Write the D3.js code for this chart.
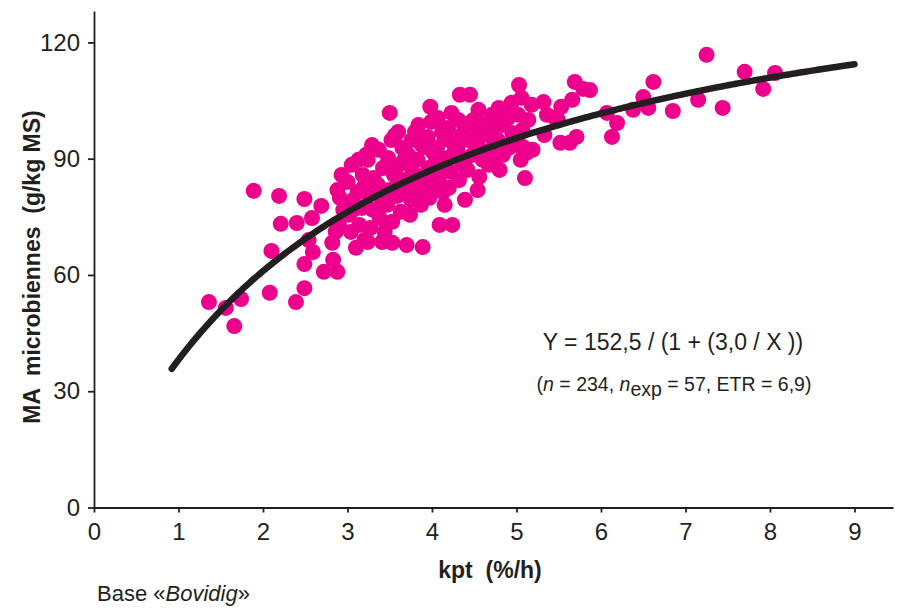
<!DOCTYPE html>
<html>
<head>
<meta charset="utf-8">
<script src="https://cdn.jsdelivr.net/npm/d3@7"></script>
<style>
  html, body { margin: 0; padding: 0; background: #fff; }
  text { font-family: "Liberation Sans", Arial, Helvetica, sans-serif; fill: #231f20; }
</style>
</head>
<body>
<svg id="chart" width="898" height="610"></svg>
<script>
// ---- data (kpt %/h, MA microbiennes g/kg MS) ----
const kpt = [
  1.36, 1.56, 1.74, 1.66, 2.08, 2.39, 2.49, 1.89, 2.19, 2.49, 2.69, 2.21, 2.40, 2.58,
  2.10, 2.54, 2.59, 2.49, 2.72, 2.88, 2.83, 2.82, 2.91, 3.10, 3.24, 3.41, 3.53, 3.70,
  3.89, 3.74, 4.09, 4.24, 3.50, 3.98, 4.33, 4.45, 4.49, 4.54, 5.10,
  2.93, 2.88, 2.95, 2.90, 2.86,
  3.05, 3.00, 3.07, 3.02, 3.04,
  3.13, 3.18, 3.12, 3.17, 3.14, 3.20,
  3.29, 3.24, 3.31, 3.25, 3.30, 3.27,
  3.37, 3.42, 3.36, 3.41, 3.38, 3.44,
  3.52, 3.48, 3.55, 3.50, 3.47, 3.53,
  3.60, 3.65, 3.61, 3.66, 3.59, 3.63,
  3.76, 3.72, 3.77, 3.71, 3.75,
  3.84, 3.88, 3.83, 3.89, 3.85, 3.87,
  3.99, 3.95, 4.01, 3.96, 4.00, 3.97,
  4.07, 4.12, 4.06, 4.11, 4.08, 4.13,
  4.23, 4.19, 4.24, 4.18, 4.22, 4.20,
  4.31, 4.35, 4.30, 4.36, 4.32,
  4.47, 4.43, 4.48, 4.42,
  4.55, 4.59, 4.54, 4.60, 4.56,
  4.71, 4.66, 4.70, 4.67,
  4.79, 4.83, 4.78, 4.84, 4.80,
  4.94, 4.90, 4.95, 4.91,
  5.03, 5.06, 5.02, 5.07, 5.01, 5.05,
  5.18, 5.14, 5.19,
  5.32, 5.36, 5.33,
  5.53, 5.49, 5.52,
  5.69, 5.66, 5.71,
  5.87, 5.79, 4.72, 4.15, 4.39,
  6.07, 6.19, 6.13, 6.38, 6.50, 6.56, 6.62, 6.85, 7.15, 7.25, 7.44, 7.70, 7.92, 8.06,
  5.63, 5.12, 5.08, 5.46,
  3.20, 3.35, 3.45, 3.58, 3.68, 3.80, 3.92, 3.93, 4.04, 4.15, 4.17, 4.27, 4.38, 4.40,
  4.52, 4.63, 4.75, 4.87, 4.98, 3.08, 3.22, 3.56, 3.80
];
const ma = [
  53.0, 51.5, 53.8, 46.8, 55.4, 53.0, 56.6, 81.7, 80.4, 79.6, 77.8, 73.2, 73.4, 74.7,
  66.2, 69.0, 65.9, 62.8, 60.8, 60.8, 63.9, 68.3, 79.9, 67.0, 68.5, 68.5, 68.3, 67.7,
  67.2, 75.5, 72.9, 72.9, 101.8, 103.4, 106.5, 106.5, 100.0, 81.9, 85.0,
  85.8, 81.9, 76.8, 72.9, 71.1,
  88.4, 84.0, 79.4, 75.5, 71.1,
  89.7, 85.8, 81.4, 77.3, 72.9, 69.0,
  93.5, 89.7, 85.0, 80.6, 76.8, 72.1,
  92.3, 87.6, 83.2, 79.4, 74.7, 71.1,
  94.8, 90.2, 85.8, 81.9, 78.1, 73.7,
  96.9, 92.8, 88.4, 84.5, 80.4, 76.3,
  94.8, 91.0, 86.6, 82.5, 79.4,
  98.7, 93.5, 89.7, 85.0, 81.4, 78.1,
  99.5, 95.6, 91.7, 87.6, 83.2, 79.9,
  100.5, 96.9, 92.8, 89.2, 85.0, 81.4,
  101.8, 97.9, 94.3, 90.2, 86.6, 82.5,
  100.0, 96.1, 92.3, 88.4, 84.5,
  98.7, 94.8, 91.0, 87.1,
  102.6, 97.4, 93.5, 89.7, 85.3,
  101.3, 96.1, 92.3, 88.4,
  103.1, 98.7, 94.8, 91.0, 87.1,
  104.4, 100.5, 96.6, 92.8,
  109.0, 105.7, 101.3, 97.4, 93.5, 89.7,
  103.9, 100.0, 92.3,
  104.6, 101.3, 96.1,
  103.4, 100.0, 94.1,
  109.8, 105.2, 95.6,
  107.7, 108.0, 97.9, 78.1, 79.4,
  101.8, 99.2, 95.6, 102.6, 105.9, 103.1, 109.8, 102.3, 105.2, 116.8, 103.1, 112.4, 108.0, 112.1,
  94.1, 91.5, 93.0, 100.5,
  83.0, 77.0, 88.0, 82.0, 90.0, 84.0, 93.0, 86.0, 89.0, 95.0, 87.0, 92.0, 99.0, 90.0,
  95.0, 99.0, 90.0, 101.0, 95.0, 77.0, 91.0, 96.0, 97.0
];
// fitted model printed on the chart: Y = 152,5 / (1 + (3,0 / X))
const fitA = 152.5, fitB = 3.0;
const fitRange = [0.92, 9.0];
const xTicks = [0, 1, 2, 3, 4, 5, 6, 7, 8, 9];
const yTicks = [0, 30, 60, 90, 120];
const xTitle = "kpt  (%/h)";
const yTitle = "MA  microbiennes  (g/kg MS)";

// ---- drawing ----
const svg = d3.select("#chart");
const ink = "#231f20";
const pink = "#ec008c";

const x = d3.scaleLinear().domain([0, 9.456]).range([94, 893]);
const y = d3.scaleLinear().domain([0, 128.1]).range([507.5, 11]);

const points = kpt.map((k, i) => ({ k, m: ma[i] }));

svg.append("g").selectAll("circle").data(points).join("circle")
  .attr("cx", d => x(d.k)).attr("cy", d => y(d.m)).attr("r", 8)
  .attr("fill", pink);

const curveX = d3.range(fitRange[0], fitRange[1] + 1e-9, 0.02);
const curveData = curveX.map(v => ({ k: v, m: fitA / (1 + fitB / v) }));
svg.append("path").datum(curveData)
  .attr("fill", "none").attr("stroke", ink).attr("stroke-width", 6.5)
  .attr("stroke-linecap", "round").attr("stroke-linejoin", "round")
  .attr("d", d3.line().x(d => x(d.k)).y(d => y(d.m)).curve(d3.curveMonotoneX));

// axes
const gx = svg.append("g").attr("transform", `translate(0,${y(0)})`)
  .call(d3.axisBottom(x).tickValues(xTicks).tickFormat(d3.format("d"))
    .tickSize(5).tickSizeOuter(0).tickPadding(10));
const gy = svg.append("g").attr("transform", `translate(${x(0)},0)`)
  .call(d3.axisLeft(y).tickValues(yTicks).tickFormat(d3.format("d"))
    .tickSize(6).tickSizeOuter(0).tickPadding(8));
[gx, gy].forEach(g => {
  g.select(".domain").attr("stroke", ink).attr("stroke-width", 1.8);
  g.selectAll(".tick line").attr("stroke", ink).attr("stroke-width", 1.8);
  g.selectAll(".tick text").attr("fill", ink)
    .style("font-family", '"Liberation Sans", Arial, sans-serif').style("font-size", "24px");
});

// titles
svg.append("text").attr("x", 490).attr("y", 578).attr("text-anchor", "middle")
  .style("font-size", "23px").style("font-weight", "bold").style("white-space", "pre")
  .text(xTitle);
svg.append("text").attr("transform", "translate(40,267) rotate(-90)").attr("text-anchor", "middle")
  .style("font-size", "23px").style("font-weight", "bold").style("white-space", "pre")
  .text(yTitle);

// equation annotation
svg.append("text").attr("x", 673).attr("y", 350).attr("text-anchor", "middle")
  .style("font-size", "23px").text("Y = 152,5 / (1 + (3,0 / X ))");
const t2 = svg.append("text").attr("x", 674).attr("y", 391).attr("text-anchor", "middle")
  .style("font-size", "19.5px");
t2.append("tspan").text("(");
t2.append("tspan").style("font-style", "italic").text("n");
t2.append("tspan").text(" = 234, ");
t2.append("tspan").style("font-style", "italic").text("n");
t2.append("tspan").attr("dy", 5).text("exp");
t2.append("tspan").attr("dy", -5).text(" = 57, ETR = 6,9)");

// source
const t3 = svg.append("text").attr("x", 97).attr("y", 601).style("font-size", "22px");
t3.append("tspan").text("Base «");
t3.append("tspan").style("font-style", "italic").text("Bovidig");
t3.append("tspan").text("»");
</script>
</body>
</html>
